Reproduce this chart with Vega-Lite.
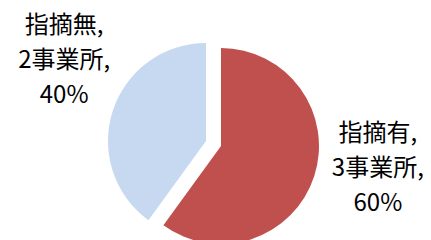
{
  "$schema": "https://vega.github.io/schema/vega-lite/v6.json",
  "autosize": "none",
  "width": 196,
  "height": 188,
  "padding": {"left": 123, "top": 52, "right": 112, "bottom": 0},
  "background": "white",
  "view": {"stroke": null},
  "data": {"values": [
    {"category": "指摘有", "count": 3, "label": "指摘有,\n3事業所,\n60%"},
    {"category": "指摘無", "count": 2, "label": "指摘無,\n2事業所,\n40%"}
  ]},
  "layer": [
    {
      "transform": [
        {"stack": "count", "groupby": [], "as": ["t0", "t1"]},
        {"filter": "datum.category === '指摘有'"}
      ],
      "mark": {"type": "arc", "outerRadius": 98, "color": "#C0504D", "strokeWidth": 0},
      "encoding": {
        "theta": {"field": "t0", "type": "quantitative", "scale": {"domain": [0, 5]}},
        "theta2": {"field": "t1"}
      }
    },
    {
      "transform": [
        {"stack": "count", "groupby": [], "as": ["t0", "t1"]},
        {"filter": "datum.category === '指摘無'"}
      ],
      "mark": {"type": "arc", "outerRadius": 98, "color": "#C6D9F1", "strokeWidth": 0, "xOffset": -15, "yOffset": -5},
      "encoding": {
        "theta": {"field": "t0", "type": "quantitative", "scale": {"domain": [0, 5]}},
        "theta2": {"field": "t1"}
      }
    },
    {
      "mark": {"type": "text", "radius": 166, "thetaOffset": 0.019, "dy": -66, "fontSize": 24, "lineHeight": 35, "lineBreak": "\n", "font": "Noto Sans CJK JP", "color": "#000000", "align": "center", "baseline": "middle"},
      "encoding": {
        "theta": {"field": "count", "type": "quantitative", "stack": true, "scale": {"domain": [0, 5]}},
        "text": {"field": "label"}
      }
    }
  ]
}
